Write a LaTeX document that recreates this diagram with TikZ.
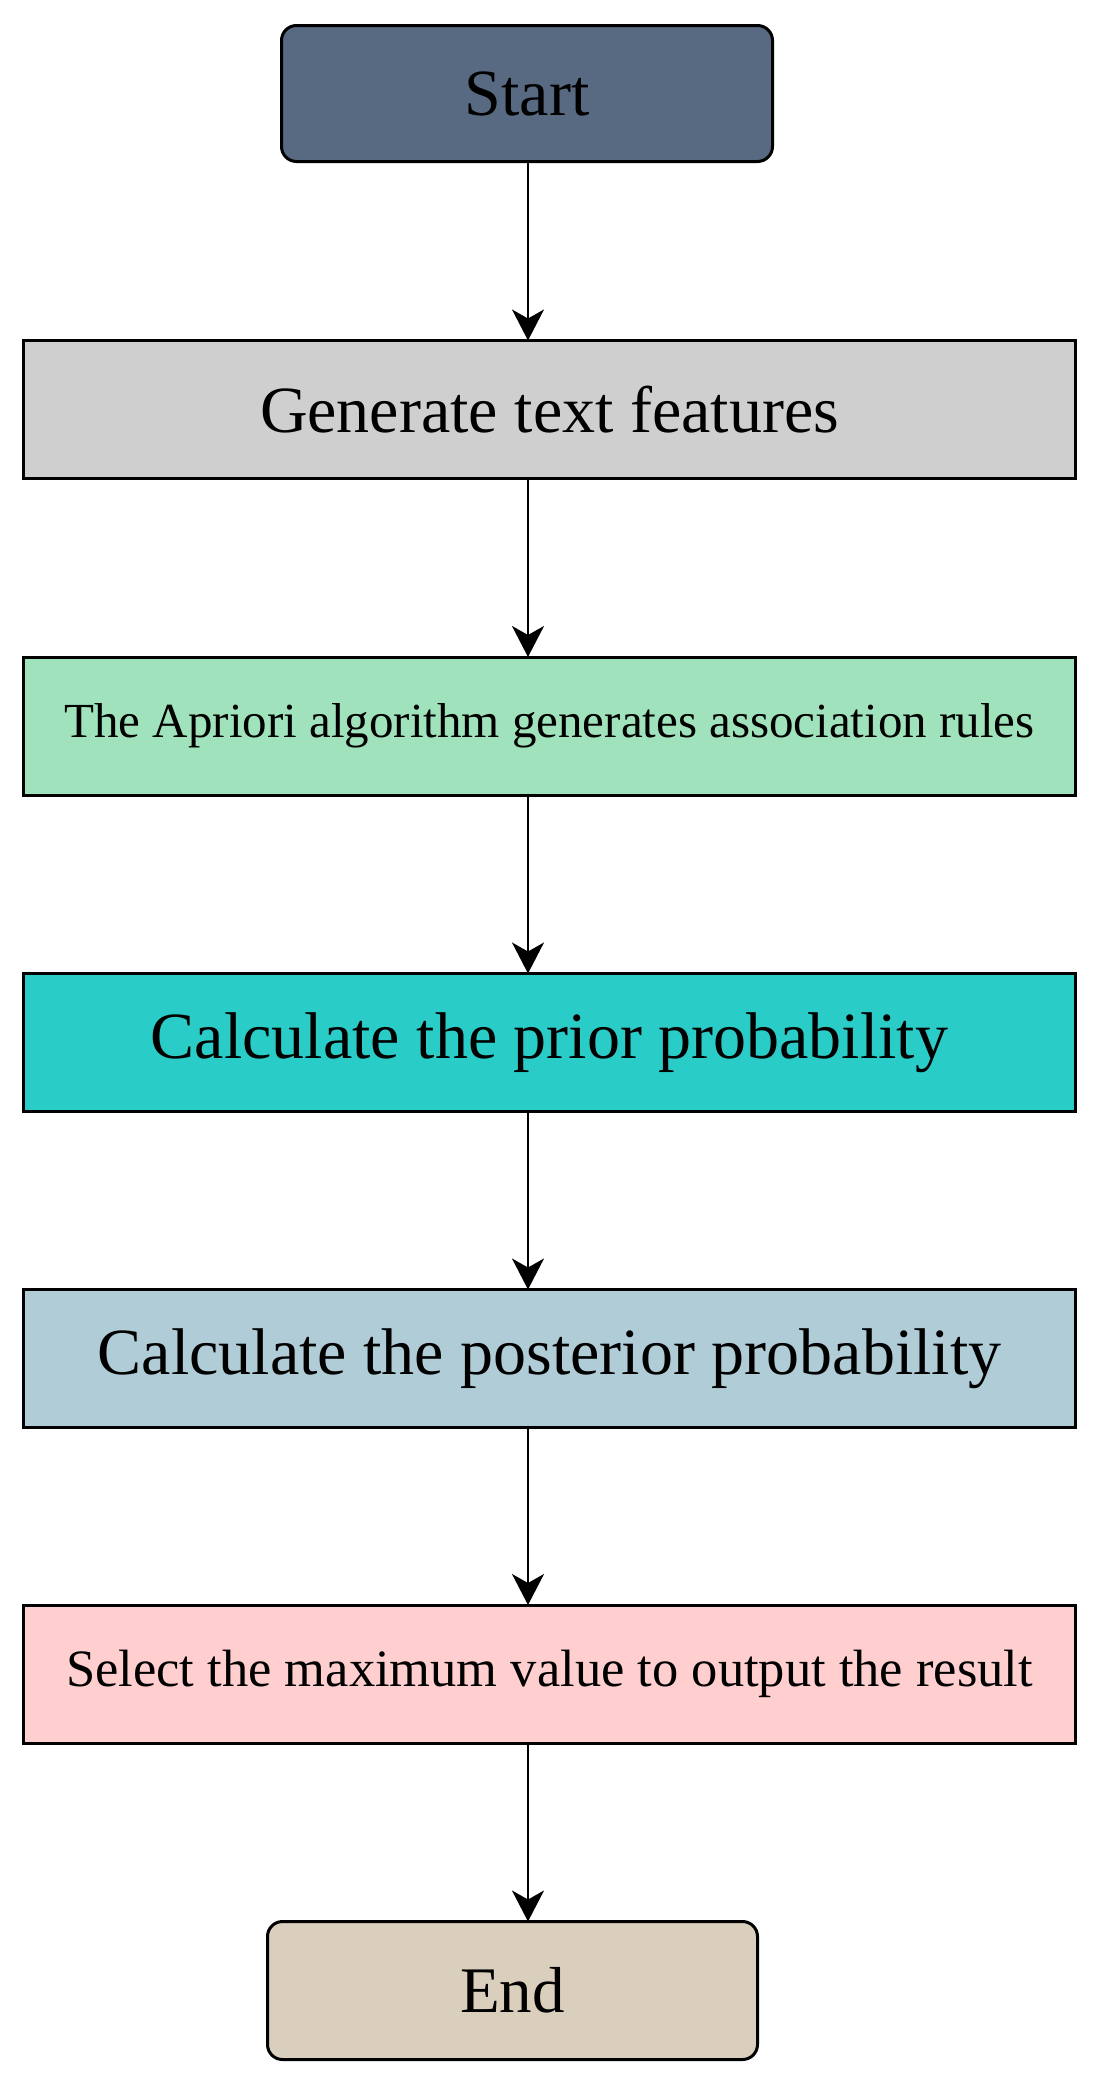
\documentclass[tikz,border=0pt]{standalone}
\usepackage{fontspec}
\setmainfont{Liberation Serif}
\usetikzlibrary{arrows.meta}
\definecolor{cstart}{HTML}{586A82}
\definecolor{cgen}{HTML}{CFCFCF}
\definecolor{capr}{HTML}{9FE2BB}
\definecolor{cprior}{HTML}{2ACCC8}
\definecolor{cpost}{HTML}{B0CCD6}
\definecolor{csel}{HTML}{FFCFCF}
\definecolor{cend}{HTML}{DACEBD}
\tikzset{
  wide/.style={draw=black, line width=3pt, minimum width=1052pt, minimum height=138pt, inner sep=0pt, outer sep=0pt, align=center},
  term/.style={draw=black, line width=3pt, rounded corners=15pt, minimum width=491pt, minimum height=136pt, inner sep=0pt, outer sep=0pt, align=center},
  big/.style={font=\fontsize{66}{70}\selectfont},
  mid/.style={font=\fontsize{49}{54}\selectfont},
  flow/.style={line width=2pt, -{Stealth[length=31pt,width=32pt,inset=9pt]}}
}
\begin{document}
\begin{tikzpicture}[x=1pt,y=-1pt]
\useasboundingbox (0,0) rectangle (1099,2086);
\fill[white] (0,0) rectangle (1099,2086);
\node[term, fill=cstart, big] (start) at (527,93.5) {Start};
\node[wide, fill=cgen, big] (gen) at (549.5,409.5) {Generate text features};
\node[wide, fill=capr, mid] (apr) at (549.5,726) {The Apriori algorithm generates association rules};
\node[wide, fill=cprior, big] (prior) at (549.5,1042.5) {Calculate the prior probability};
\node[wide, fill=cpost, big] (post) at (549.5,1358.5) {Calculate the posterior probability};
\node[wide, fill=csel, font=\fontsize{52.5}{56}\selectfont] (sel) at (549.5,1674) {Select the maximum value to output the result};
\node[term, fill=cend, minimum width=490pt, minimum height=138pt, font=\fontsize{65}{70}\selectfont] (end) at (512.5,1990.5) {End};
\coordinate (ax) at (528,0);
\draw[flow] (start.south -| ax) -- (gen.north -| ax);
\draw[flow] (gen.south -| ax) -- (apr.north -| ax);
\draw[flow] (apr.south -| ax) -- (prior.north -| ax);
\draw[flow] (prior.south -| ax) -- (post.north -| ax);
\draw[flow] (post.south -| ax) -- (sel.north -| ax);
\draw[flow] (sel.south -| ax) -- (end.north -| ax);
\end{tikzpicture}
\end{document}
